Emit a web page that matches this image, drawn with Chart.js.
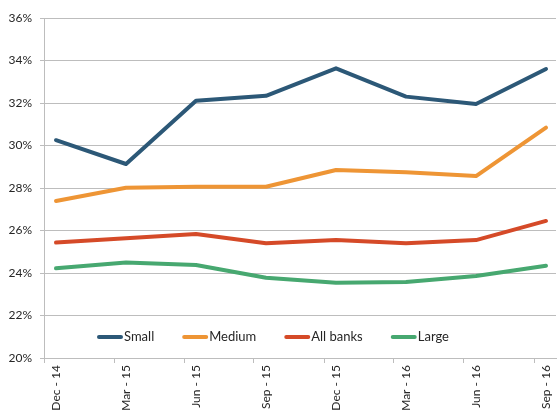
<!DOCTYPE html>
<html>
<head>
<meta charset="utf-8">
<script src="https://cdn.jsdelivr.net/npm/chart.js@4/dist/chart.umd.min.js"></script>
<style>
  html, body { margin: 0; padding: 0; background: #fff; }
  #wrap { width: 557px; height: 410px; }
</style>
</head>
<body>
<div id="wrap"><canvas id="bankChart"></canvas></div>
<script>
// Quarters on the x axis
var quarters = ['Dec - 14', 'Mar - 15', 'Jun - 15', 'Sep - 15', 'Dec - 15', 'Mar - 16', 'Jun - 16', 'Sep - 16'];

// Series values (%)
var small    = [30.25, 29.13, 32.11, 32.34, 33.63, 32.30, 31.95, 33.60];
var medium   = [27.39, 28.01, 28.06, 28.06, 28.85, 28.74, 28.56, 30.84];
var allBanks = [25.43, 25.63, 25.84, 25.40, 25.55, 25.40, 25.55, 26.45];
var large    = [24.22, 24.49, 24.38, 23.78, 23.54, 23.58, 23.86, 24.34];

// Y axis tick labels
var yTicks = [20, 22, 24, 26, 28, 30, 32, 34, 36];

var seriesNames  = ['Small', 'Medium', 'All banks', 'Large'];
var seriesData   = [small, medium, allBanks, large];
var seriesColors = ['#2C5877', '#EE9535', '#D54A28', '#47A870'];

var axisFont = { family: 'Lato, "Open Sans", sans-serif', size: 12 };
var gridColor = '#BDBDBD';

function toPoints(values) {
    return values.map(function(v, i) { return { x: i, y: v }; });
}

var datasets = seriesData.map(function(values, i) {
    return {
        label: seriesNames[i],
        data: toPoints(values),
        borderColor: seriesColors[i],
        backgroundColor: seriesColors[i],
        borderWidth: 4,
        borderCapStyle: 'round',
        borderJoinStyle: 'round',
        pointRadius: 0,
        tension: 0,
        fill: false
    };
});

// Legend drawn inside the plot area, above the x axis
var insideLegend = {
    id: 'insideLegend',
    afterDatasetsDraw: function(chart) {
        var ctx = chart.ctx;
        var area = chart.chartArea;
        var x = area.left + 53;
        var y = area.bottom - 21;
        ctx.save();
        ctx.font = '13px Lato, "Open Sans", sans-serif';
        ctx.textBaseline = 'middle';
        ctx.textAlign = 'left';
        seriesNames.forEach(function(name, i) {
            ctx.strokeStyle = seriesColors[i];
            ctx.lineWidth = 4;
            ctx.lineCap = 'round';
            ctx.beginPath();
            ctx.moveTo(x + 2, y);
            ctx.lineTo(x + 24, y);
            ctx.stroke();
            ctx.fillStyle = '#262626';
            ctx.fillText(name, x + 27, y);
            x += 27 + ctx.measureText(name).width + 28;
        });
        ctx.restore();
    }
};

var ctx = document.getElementById('bankChart').getContext('2d');
var bankChart = new Chart(ctx, {
    type: 'line',
    data: { datasets: datasets },
    plugins: [insideLegend],
    options: {
        responsive: true,
        maintainAspectRatio: false,
        animation: false,
        layout: { padding: { top: 18, right: 1, left: 0, bottom: 0 } },
        plugins: {
            legend: { display: false },
            tooltip: { enabled: false }
        },
        scales: {
            x: {
                type: 'linear',
                min: -12 / 70,
                max: 7 + 10 / 70,
                afterBuildTicks: function(axis) {
                    axis.ticks = quarters.map(function(q, i) { return { value: i - 12 / 70 }; });
                },
                afterFit: function(axis) { axis.height = 52; },
                grid: { drawOnChartArea: false, color: gridColor, tickLength: 5 },
                border: { color: gridColor },
                ticks: {
                    autoSkip: false,
                    minRotation: 90,
                    maxRotation: 90,
                    labelOffset: 12,
                    padding: 2,
                    color: '#262626',
                    font: axisFont,
                    callback: function(value, index) { return quarters[index]; }
                }
            },
            y: {
                min: yTicks[0],
                max: yTicks[yTicks.length - 1],
                afterBuildTicks: function(axis) {
                    axis.ticks = yTicks.map(function(v) { return { value: v }; });
                },
                afterFit: function(axis) { axis.width = 44; },
                grid: { color: gridColor, tickLength: 4 },
                border: { color: gridColor },
                ticks: {
                    padding: 8,
                    color: '#262626',
                    font: axisFont,
                    callback: function(value) { return value + '%'; }
                }
            }
        }
    }
});
</script>
</body>
</html>
